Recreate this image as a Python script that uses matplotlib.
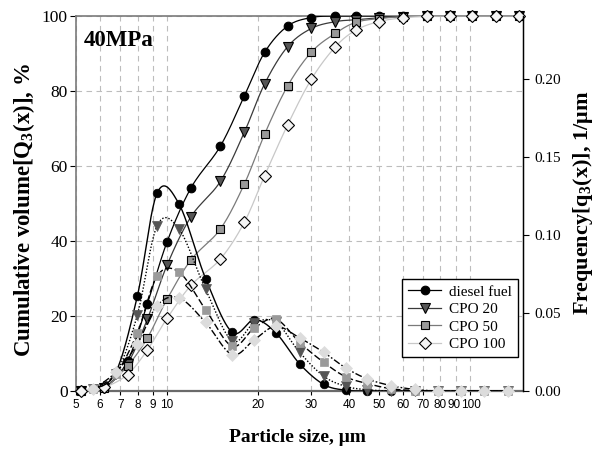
import numpy as np
import matplotlib
matplotlib.use("Agg")
import matplotlib.pyplot as plt
import matplotlib.transforms as mtransforms
from matplotlib.ticker import FixedLocator, NullLocator, FuncFormatter

# ---------------- data ----------------
# class upper edges (cumulative Q3) and class geometric means (density q3), um
size_edges = [5.2, 6.2, 7.4, 8.6, 10, 12, 15, 18, 21, 25, 30, 36, 42, 50, 60, 72, 86, 102, 122, 146]
size_mids = [5.68, 6.77, 7.98, 9.27, 10.95, 13.4, 16.4, 19.44, 22.9, 27.4, 32.9, 38.9, 45.8,
             54.8, 65.7, 78.7, 93.7, 111.5, 133.5]

series_names = ["diesel fuel", "CPO 20", "CPO 50", "CPO 100"]

q3cum_diesel = [0, 0.9, 8.0, 23.2, 39.8, 54.2, 65.3, 78.7, 90.3, 97.3, 99.6, 100, 100, 100, 100, 100, 100, 100, 100, 100]
q3cum_cpo20 = [0, 0.9, 7.3, 19.1, 33.6, 46.5, 55.9, 69.0, 81.9, 91.8, 96.7, 98.5, 99.0, 99.5, 99.8, 100, 100, 100, 100, 100]
q3cum_cpo50 = [0, 0.9, 6.7, 14.1, 24.5, 35.0, 43.2, 55.2, 68.5, 81.3, 90.4, 95.4, 98.3, 99.3, 99.8, 100, 100, 100, 100, 100]
q3cum_cpo100 = [0, 1.0, 4.4, 10.9, 19.4, 28.2, 35.2, 45.0, 57.4, 70.9, 83.2, 91.8, 96.2, 98.5, 99.5, 99.9, 100, 100, 100, 100]

q3den_diesel = [0.001, 0.012, 0.061, 0.1267, 0.1197, 0.0720, 0.0376, 0.0457, 0.0372, 0.0174, 0.0042, 0.0005, 0, 0, 0, 0, 0, 0, 0]
q3den_cpo20 = [0.001, 0.011, 0.0489, 0.1058, 0.1037, 0.0651, 0.0321, 0.0436, 0.0440, 0.0248, 0.0095, 0.0030, 0.0008, 0, 0, 0, 0, 0, 0]
q3den_cpo50 = [0.001, 0.011, 0.0374, 0.0736, 0.0761, 0.0521, 0.0287, 0.0404, 0.0460, 0.0310, 0.0184, 0.0091, 0.0048, 0.0015, 0.0003, 0, 0, 0, 0]
q3den_cpo100 = [0.001, 0.012, 0.0302, 0.0547, 0.0596, 0.0439, 0.0233, 0.0329, 0.0414, 0.0340, 0.0248, 0.0148, 0.0078, 0.0035, 0.001, 0, 0, 0, 0]

xtick_values = [5, 6, 7, 8, 9, 10, 20, 30, 40, 50, 60, 70, 80, 90, 100]
left_ticks = [0, 20, 40, 60, 80, 100]
right_ticks = [0.00, 0.05, 0.10, 0.15, 0.20]

# ---------------- helpers ----------------
def smooth(xs, ys, n=24):
    """Excel-like smoothed line (uniform Catmull-Rom / Bezier) in log-x space."""
    X = np.log10(np.asarray(xs, float))
    Y = np.asarray(ys, float)
    P = np.column_stack([X, Y])
    P = np.vstack([P[0], P, P[-1]])
    out = []
    t = np.linspace(0, 1, n)[:, None]
    for i in range(1, len(P) - 2):
        p0, p1, p2, p3 = P[i - 1], P[i], P[i + 1], P[i + 2]
        b1 = p1 + (p2 - p0) / 6.0
        b2 = p2 - (p3 - p1) / 6.0
        seg = ((1 - t) ** 3) * p1 + 3 * ((1 - t) ** 2) * t * b1 + 3 * (1 - t) * t ** 2 * b2 + t ** 3 * p2
        out.append(seg if i == 1 else seg[1:])
    out = np.vstack(out)
    return 10 ** out[:, 0], out[:, 1]

plt.rcParams['font.family'] = ['Liberation Serif', 'DejaVu Serif']
plt.rcParams['mathtext.fontset'] = 'custom'
plt.rcParams['mathtext.rm'] = 'Liberation Serif'
plt.rcParams['mathtext.bf'] = 'Liberation Serif:bold'

fig = plt.figure(figsize=(5.95, 4.53), dpi=100)
ax = fig.add_axes([76 / 595, 1 - 391 / 453, (523 - 76) / 595, (391 - 16) / 453])
ax2 = ax.twinx()

cum_data = [q3cum_diesel, q3cum_cpo20, q3cum_cpo50, q3cum_cpo100]
den_data = [q3den_diesel, q3den_cpo20, q3den_cpo50, q3den_cpo100]

markers = ['o', 'v', 's', 'D']
msizes = [6.2, 6.5, 5.6, 5.8]
cum_line_colors = ['#000000', '#3a3a3a', '#7a7a7a', '#c8c8c8']
cum_face = ['#000000', '#555555', '#999999', '#f4f4f4']
den_face = ['#000000', '#555555', '#9a9a9a', '#dcdcdc']
den_styles = ['-', (0, (1, 1.3)), (0, (5, 2)), (0, (5, 1.5, 1.2, 1.5))]

handles = []
for k in range(4):
    sx, sy = smooth(size_edges, cum_data[k])
    ax.plot(sx, sy, color=cum_line_colors[k], lw=0.9, zorder=3)
    ax.plot(size_edges, cum_data[k], linestyle='none', marker=markers[k], ms=msizes[k],
            mfc=cum_face[k], mec='#000000', mew=0.8, zorder=4, clip_on=False)
    h, = ax.plot([], [], color=cum_line_colors[k], lw=0.9, marker=markers[k], ms=msizes[k],
                 mfc=cum_face[k], mec='#000000', mew=0.8, label=series_names[k])
    handles.append(h)

for k in range(4):
    sx, sy = smooth(size_mids, den_data[k])
    ax2.plot(sx, sy, color='#000000', lw=1.0, linestyle=den_styles[k], zorder=3)
    ax2.plot(size_mids, den_data[k], linestyle='none', marker=markers[k], ms=msizes[k],
             mfc=den_face[k], mec=den_face[k] if k else '#000000', mew=0.5, zorder=4, clip_on=False)

# axes settings
ax.set_xscale('log')
ax.set_xlim(5, 150)
ax.set_ylim(0, 100)
ax2.set_ylim(0, 0.24)

ax.xaxis.set_major_locator(FixedLocator(xtick_values))
ax.xaxis.set_minor_locator(NullLocator())
ax.set_xticklabels([str(v) for v in xtick_values], fontfamily='Liberation Sans', fontsize=8.5)
ax.tick_params(axis='x', direction='out', length=3, width=0.8, pad=3)
# nudge the tightly packed "90" and "100" labels apart a little
xlabels = ax.get_xticklabels()
xlabels[-2].set_transform(xlabels[-2].get_transform() +
                          mtransforms.ScaledTranslation(-1.5 / 100, 0, fig.dpi_scale_trans))
xlabels[-1].set_transform(xlabels[-1].get_transform() +
                          mtransforms.ScaledTranslation(1.5 / 100, 0, fig.dpi_scale_trans))

ax.set_yticks(left_ticks)
ax.set_yticklabels([str(v) for v in left_ticks], fontsize=12.5)
ax.tick_params(axis='y', direction='out', length=4, width=0.8, pad=2)

ax2.set_yticks(right_ticks)
ax2.yaxis.set_major_formatter(FuncFormatter(lambda v, p: f"{v:.2f}"))
ax2.tick_params(axis='y', direction='out', length=4, width=0.8, pad=4, labelsize=11)

ax.grid(True, which='major', color='#bdbdbd', linestyle=(0, (5, 4)), linewidth=0.8)
ax.set_axisbelow(True)

for s in ['top', 'left']:
    ax.spines[s].set_color('#7a7a7a')
    ax.spines[s].set_linewidth(1.2)
ax.spines['bottom'].set_color('#6a6a6a')
ax.spines['bottom'].set_linewidth(1.6)
ax2.spines['right'].set_color('#000000')
ax2.spines['right'].set_linewidth(1.0)
for s in ['top', 'left', 'bottom']:
    ax2.spines[s].set_visible(False)

ax.text(0.018, 0.935, '40MPa', transform=ax.transAxes, fontsize=16.5, fontweight='bold',
        ha='left', va='center')

fig.text(24 / 595, 1 - 210 / 453, r'Cumulative volume[Q$_{\mathbf{3}}$(x)], %', rotation=90,
         ha='center', va='center', fontsize=16.5, fontweight='bold')
fig.text(583 / 595, 1 - 203 / 453, r'Frequency[q$_{\mathbf{3}}$(x)], 1/μm', rotation=90,
         ha='center', va='center', fontsize=16, fontweight='bold')
fig.text(297 / 595, 1 - 437 / 453, 'Particle size, μm', ha='center', va='center',
         fontsize=14, fontweight='bold')

leg = ax2.legend(handles=handles, loc='upper left', bbox_to_anchor=(401.7 / 595, 1 - 279 / 453),
                 bbox_transform=fig.transFigure, fontsize=11, frameon=True, fancybox=False,
                 edgecolor='#000000', framealpha=1, handlelength=2.2, handletextpad=0.5,
                 labelspacing=0.25, borderpad=0.4, borderaxespad=0)
leg.get_frame().set_linewidth(1.0)
leg.set_zorder(10)

fig.savefig('out.png', dpi=100)
